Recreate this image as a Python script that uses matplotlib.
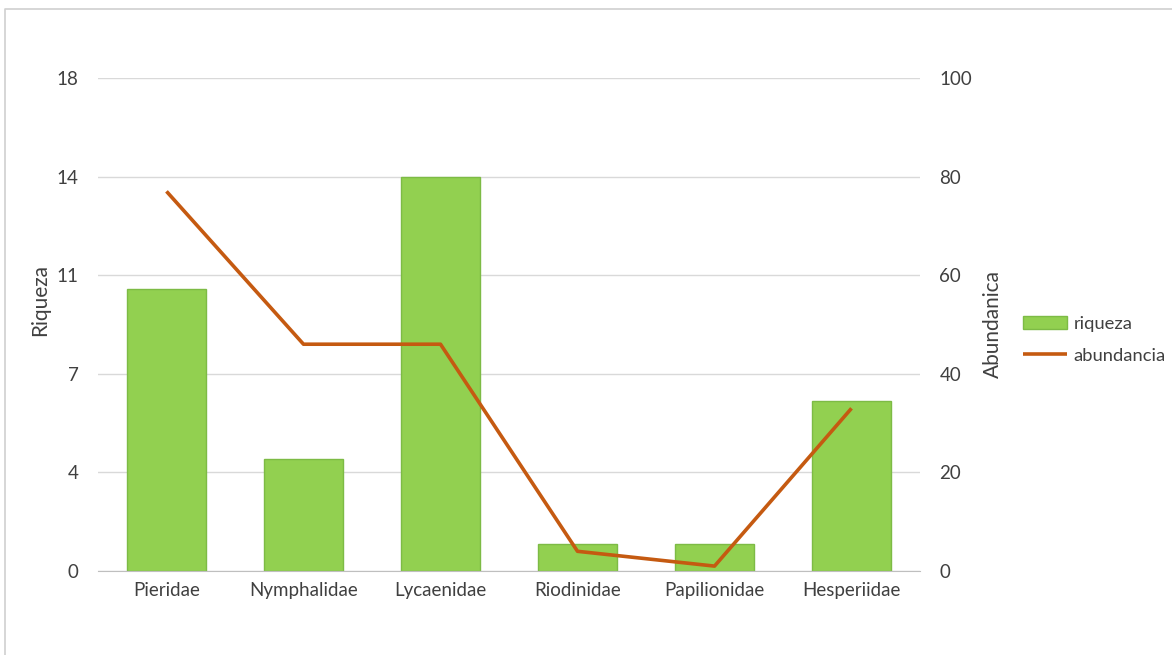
import numpy as np
import matplotlib.pyplot as plt
from matplotlib.lines import Line2D

familias = ["Pieridae", "Nymphalidae", "Lycaenidae", "Riodinidae", "Papilionidae", "Hesperiidae"]
riqueza = [10.3, 4.1, 14.4, 1.0, 1.0, 6.2]
abundancia = [77, 46, 46, 4, 1, 33]
riqueza_ticks = [0, 3.6, 7.2, 10.8, 14.4, 18]
abundancia_ticks = [0, 20, 40, 60, 80, 100]

plt.rcParams['font.family'] = ['Lato', 'DejaVu Sans']
txt = "#404040"

fig = plt.figure(figsize=(11.72, 6.55), dpi=100)
# thin frame along top and left edge, as in the screenshot
fig.lines.append(Line2D([0.004, 0.004, 1.0], [0.0, 0.986, 0.986], transform=fig.transFigure,
                        color="#D0D0D0", linewidth=1.2))

ax = fig.add_axes([0.0836, 0.1282, 0.7014, 0.7528])
x = np.arange(len(familias))

bars = ax.bar(x, riqueza, width=0.58, color="#92D050", edgecolor="#7DBB45",
              linewidth=1, label="riqueza", zorder=2)
ax.set_ylim(0, 18)
ax.set_xlim(-0.5, len(familias) - 0.5)
ax.set_yticks(riqueza_ticks)
ax.set_yticklabels([f"{v:.0f}" for v in riqueza_ticks])
ax.grid(axis="y", color="#D9D9D9", linewidth=1, zorder=0)
ax.set_axisbelow(True)
ax.set_xticks(x)
ax.set_xticklabels(familias)
ax.tick_params(length=0, labelsize=13.5, labelcolor=txt)
ax.tick_params(axis="x", pad=8)
ax.tick_params(axis="y", pad=14)
for s in ["top", "right", "left"]:
    ax.spines[s].set_visible(False)
ax.spines["bottom"].set_color("#BFBFBF")
ax.set_ylabel("Riqueza", fontsize=15, color=txt)
ax.yaxis.set_label_coords(-0.058, 0.55)

ax2 = ax.twinx()
line, = ax2.plot(x, abundancia, color="#C55A11", linewidth=2.6, label="abundancia",
                 solid_capstyle="butt")
ax2.set_ylim(0, 100)
ax2.set_yticks(abundancia_ticks)
ax2.tick_params(length=0, labelsize=13.5, labelcolor=txt, pad=14)
for s in ax2.spines.values():
    s.set_visible(False)
ax2.set_ylabel("Abundanica", fontsize=15, color=txt)
ax2.yaxis.set_label_coords(1.077, 0.50)

fig.legend([bars, line], ["riqueza", "abundancia"], loc="center left",
           bbox_to_anchor=(0.867, 0.481), borderaxespad=0, frameon=False, fontsize=13.2,
           labelcolor=txt, handlelength=2.4, handletextpad=0.33, labelspacing=0.85)

fig.savefig("out.png", dpi=100)
